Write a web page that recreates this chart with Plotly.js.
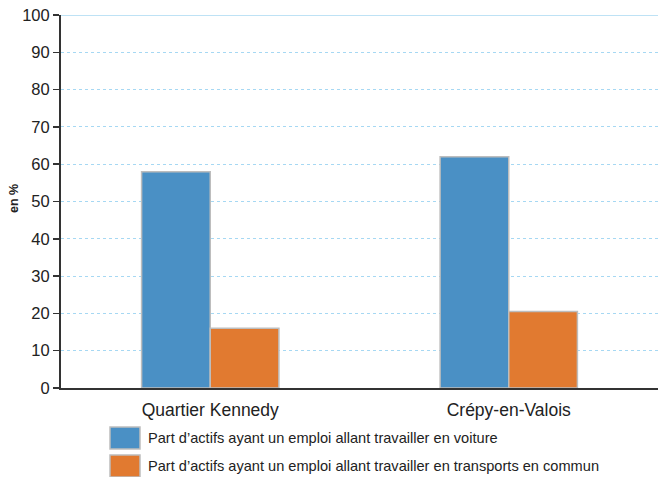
<!DOCTYPE html>
<html><head><meta charset="utf-8">
<script src="https://cdn.plot.ly/plotly-3.0.1.min.js"></script>
<style>html,body{margin:0;padding:0;background:#fff}#chart{width:658px;height:477px}</style>
</head><body><div id="chart"></div>
<script>
const categories = ["Quartier Kennedy", "Crépy-en-Valois"];
const seriesNames = [
  "Part d’actifs ayant un emploi allant travailler en voiture",
  "Part d’actifs ayant un emploi allant travailler en transports en commun"
];
const voiture = [58, 62];
const transports = [16, 20.5];
const yTicks = [0,10,20,30,40,50,60,70,80,90,100];
const yTitle = "en %";
const colors = ["#4a90c5", "#e17a30"];

const traces = [voiture, transports].map((vals, i) => ({
  type: "bar", x: categories, y: vals, name: seriesNames[i],
  marker: {color: colors[i], line: {color: "#bdbdbd", width: 1.5}},
  showlegend: false, hoverinfo: "none"
}));

const shapes = [
  {type:"line", xref:"paper", yref:"y", x0:0, x1:1, y0:100, y1:100, line:{color:"#a8d8f2", width:1.5}}
];
const annotations = [
  {xref:"paper", yref:"paper", x:(14-61)/597, y:(389-200)/373, xanchor:"center", yanchor:"middle",
   textangle:-90, showarrow:false, text:"<b>"+yTitle+"</b>",
   font:{family:"Liberation Sans, Arial, sans-serif", size:12.5, color:"#222"}}
];
seriesNames.forEach((n, i) => {
  const yTop = 428 + i*28;
  shapes.push({type:"rect", xref:"paper", yref:"paper",
    x0:(110-61)/597, x1:(140-61)/597,
    y0:(389-(yTop+22))/373, y1:(389-yTop)/373,
    fillcolor: colors[i], line:{color:"#bdbdbd", width:1.5}});
  annotations.push({xref:"paper", yref:"paper", x:(146-61)/597, y:(389-(yTop+11))/373,
    xanchor:"left", yanchor:"middle", showarrow:false, text:n,
    font:{family:"Liberation Sans, Arial, sans-serif", size:14.6, color:"#222"}});
});

const layout = {
  width:658, height:477,
  margin:{l:61, r:0, t:15, b:89},
  paper_bgcolor:"#fff", plot_bgcolor:"#fff",
  barmode:"group", bargap:0.54, bargroupgap:0,
  font:{family:"Liberation Sans, Arial, sans-serif", color:"#222"},
  xaxis:{showline:true, linecolor:"#333", linewidth:2, ticks:"", showgrid:false,
    tickfont:{size:17.5, color:"#222"}, ticklabelstandoff:5, fixedrange:true},
  yaxis:{range:[0,100], tickvals:yTicks, ticks:"outside", ticklen:6, tickwidth:1.5, tickcolor:"#333",
    showline:true, linecolor:"#333", linewidth:2, zeroline:false,
    showgrid:true, gridcolor:"#a6d8f3", griddash:"dot", gridwidth:1,
    tickfont:{size:16.5, color:"#222"}},
  shapes: shapes, annotations: annotations
};
Plotly.newPlot("chart", traces, layout, {displayModeBar:false, staticPlot:true});
</script></body></html>
